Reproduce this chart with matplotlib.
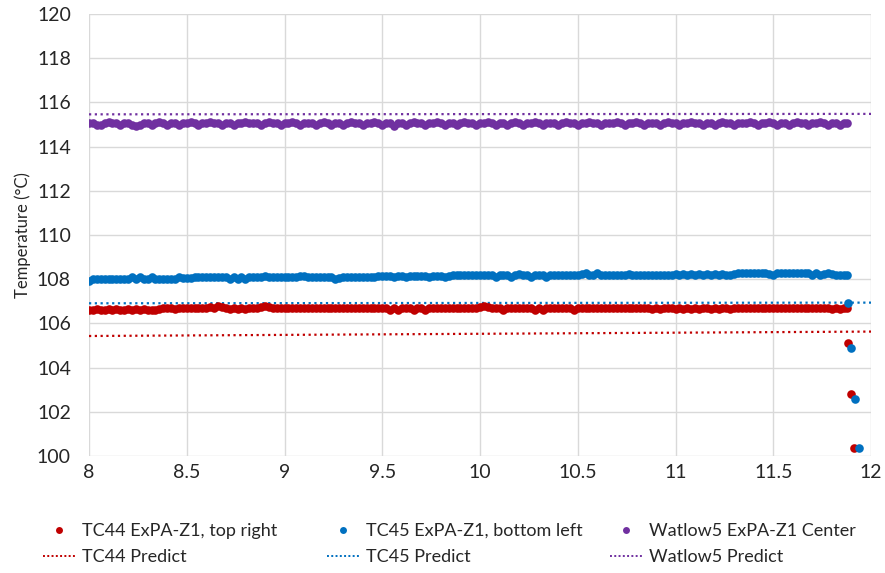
import numpy as np
import matplotlib
matplotlib.use("Agg")
import matplotlib.pyplot as plt
from matplotlib.ticker import FuncFormatter
from matplotlib.lines import Line2D

plt.rcParams['font.family'] = ['Lato', 'DejaVu Sans']

# time grid for the steady part (hours)
n_pts = 194
time = 8.0 + 0.02 * np.arange(n_pts)

tc45 = [
    107.92, 108.0, 108.0, 108.0, 108.0, 108.0, 108.0, 108.0, 108.0, 108.0,
    108.0, 108.1, 108.0, 108.1, 108.0, 108.0, 108.1, 108.0, 108.0, 108.0,
    108.0, 108.0, 108.0, 108.1, 108.05, 108.05, 108.05, 108.1, 108.1, 108.1,
    108.1, 108.1, 108.1, 108.1, 108.1, 108.1, 108.0, 108.1, 108.0, 108.1,
    108.0, 108.1, 108.1, 108.1, 108.1, 108.15, 108.1, 108.1, 108.1, 108.1,
    108.1, 108.1, 108.1, 108.1, 108.15, 108.15, 108.1, 108.1, 108.1, 108.1,
    108.1, 108.1, 108.1, 108.0, 108.05, 108.1, 108.1, 108.1, 108.1, 108.1,
    108.1, 108.1, 108.1, 108.1, 108.15, 108.15, 108.15, 108.15, 108.1, 108.15,
    108.15, 108.1, 108.15, 108.15, 108.15, 108.15, 108.15, 108.1, 108.15, 108.15,
    108.15, 108.1, 108.15, 108.2, 108.2, 108.2, 108.2, 108.2, 108.2, 108.2,
    108.2, 108.2, 108.2, 108.2, 108.1, 108.2, 108.2, 108.2, 108.1, 108.2,
    108.25, 108.2, 108.2, 108.1, 108.2, 108.2, 108.2, 108.1, 108.2, 108.2,
    108.2, 108.2, 108.2, 108.2, 108.2, 108.2, 108.25, 108.3, 108.2, 108.2,
    108.3, 108.2, 108.2, 108.2, 108.2, 108.2, 108.2, 108.2, 108.25, 108.2,
    108.2, 108.2, 108.2, 108.2, 108.2, 108.2, 108.2, 108.2, 108.2, 108.2,
    108.25, 108.2, 108.25, 108.2, 108.25, 108.2, 108.25, 108.2, 108.25, 108.2,
    108.25, 108.2, 108.25, 108.2, 108.2, 108.25, 108.3, 108.3, 108.3, 108.3,
    108.3, 108.3, 108.3, 108.3, 108.25, 108.2, 108.3, 108.3, 108.3, 108.3,
    108.3, 108.3, 108.3, 108.3, 108.3, 108.2, 108.3, 108.2, 108.25, 108.3,
    108.25, 108.2, 108.2, 108.2,
]

tc44 = [
    106.6, 106.6, 106.65, 106.6, 106.6, 106.65, 106.6, 106.65, 106.6, 106.6,
    106.65, 106.6, 106.65, 106.6, 106.65, 106.6, 106.6, 106.6, 106.65, 106.7,
    106.7, 106.7, 106.65, 106.7, 106.7, 106.7, 106.7, 106.7, 106.7, 106.7,
    106.7, 106.75, 106.7, 106.8, 106.75, 106.7, 106.65, 106.7, 106.65, 106.7,
    106.65, 106.7, 106.7, 106.7, 106.75, 106.8, 106.75, 106.7, 106.7, 106.7,
    106.7, 106.7, 106.7, 106.7, 106.7, 106.7, 106.7, 106.7, 106.7, 106.7,
    106.7, 106.7, 106.7, 106.7, 106.7, 106.7, 106.7, 106.7, 106.7, 106.7,
    106.7, 106.7, 106.7, 106.7, 106.7, 106.7, 106.7, 106.6, 106.7, 106.6,
    106.7, 106.7, 106.7, 106.6, 106.7, 106.7, 106.6, 106.7, 106.7, 106.7,
    106.7, 106.7, 106.7, 106.7, 106.7, 106.7, 106.7, 106.7, 106.7, 106.7,
    106.75, 106.8, 106.75, 106.7, 106.7, 106.7, 106.6, 106.7, 106.7, 106.7,
    106.7, 106.7, 106.7, 106.7, 106.6, 106.7, 106.6, 106.7, 106.7, 106.7,
    106.7, 106.7, 106.7, 106.7, 106.6, 106.7, 106.7, 106.7, 106.7, 106.7,
    106.7, 106.7, 106.7, 106.7, 106.7, 106.7, 106.7, 106.7, 106.7, 106.7,
    106.7, 106.7, 106.7, 106.7, 106.65, 106.7, 106.65, 106.7, 106.7, 106.7,
    106.65, 106.7, 106.65, 106.7, 106.65, 106.7, 106.65, 106.7, 106.7, 106.65,
    106.7, 106.65, 106.7, 106.7, 106.65, 106.7, 106.7, 106.7, 106.7, 106.7,
    106.7, 106.7, 106.7, 106.7, 106.7, 106.7, 106.7, 106.7, 106.7, 106.7,
    106.7, 106.7, 106.7, 106.7, 106.7, 106.7, 106.7, 106.7, 106.7, 106.7,
    106.65, 106.7, 106.65, 106.7,
]

watlow5 = [
    115.05, 115.05, 115.0, 115.0, 115.05, 115.1, 115.05, 115.05, 115.0, 115.05,
    115.05, 115.0, 114.95, 115.0, 115.05, 115.05, 115.0, 115.05, 115.1, 115.05,
    115.0, 115.05, 115.05, 115.0, 115.05, 115.05, 115.1, 115.05, 115.0, 115.05,
    115.05, 115.1, 115.05, 115.05, 115.0, 115.05, 115.05, 115.0, 115.05, 115.05,
    115.1, 115.05, 115.05, 115.05, 115.0, 115.05, 115.1, 115.05, 115.05, 115.0,
    115.05, 115.05, 115.1, 115.05, 115.0, 115.05, 115.05, 115.05, 115.0, 115.05,
    115.1, 115.05, 115.0, 115.05, 115.05, 115.0, 115.05, 115.1, 115.05, 115.05,
    115.0, 115.05, 115.05, 115.1, 115.05, 115.0, 115.05, 115.05, 114.95, 115.05,
    115.05, 115.0, 115.05, 115.1, 115.05, 115.05, 115.0, 115.05, 115.05, 115.1,
    115.05, 115.0, 115.05, 115.05, 115.0, 115.05, 115.1, 115.05, 115.05, 115.0,
    115.05, 115.05, 115.1, 115.05, 115.0, 115.05, 115.05, 115.0, 115.05, 115.1,
    115.05, 115.0, 115.05, 115.05, 115.1, 115.05, 115.0, 115.05, 115.05, 115.05,
    115.0, 115.05, 115.1, 115.05, 115.05, 115.0, 115.05, 115.05, 115.1, 115.05,
    115.05, 115.0, 115.05, 115.05, 115.05, 115.1, 115.05, 115.0, 115.05, 115.05,
    115.1, 115.05, 115.0, 115.05, 115.05, 115.05, 115.0, 115.05, 115.1, 115.05,
    115.05, 115.0, 115.05, 115.05, 115.1, 115.05, 115.05, 115.0, 115.05, 115.05,
    115.0, 115.05, 115.1, 115.05, 115.05, 115.0, 115.05, 115.05, 115.05, 115.1,
    115.05, 115.0, 115.05, 115.05, 115.1, 115.05, 115.0, 115.05, 115.05, 115.0,
    115.05, 115.1, 115.05, 115.05, 115.0, 115.05, 115.05, 115.1, 115.05, 115.0,
    115.05, 115.05, 115.0, 115.05,
]

# shutdown tails
tc44_tail_t = [11.875, 11.88, 11.897, 11.915]
tc44_tail_v = [106.7, 105.1, 102.8, 100.35]
tc45_tail_t = [11.875, 11.882, 11.90, 11.918, 11.94]
tc45_tail_v = [108.2, 106.92, 104.9, 102.6, 100.35]
watlow5_tail_t = [11.875]
watlow5_tail_v = [115.05]

# predictions
pred_t = [8.0, 12.0]
tc44_pred = [105.43, 105.63]
tc45_pred = [106.91, 106.94]
watlow5_pred = [115.46, 115.48]

labels = ["TC44 ExPA-Z1, top right", "TC45 ExPA-Z1, bottom left",
          "Watlow5 ExPA-Z1 Center", "TC44 Predict", "TC45 Predict",
          "Watlow5 Predict"]
c_red, c_blue, c_purple = "#C00000", "#0070C0", "#7030A0"

fig = plt.figure(figsize=(8.85, 5.73), dpi=100)
ax = fig.add_axes([89 / 885, 1 - 456 / 573, (871 - 89) / 885, (456 - 14) / 573])

dot = (0, (1, 1.6))
ax.plot(pred_t, tc44_pred, color=c_red, lw=1.6, ls=dot, zorder=2)
ax.plot(pred_t, tc45_pred, color=c_blue, lw=1.6, ls=dot, zorder=2)
ax.plot(pred_t, watlow5_pred, color=c_purple, lw=1.6, ls=dot, zorder=2)

ms = 6.2
ax.plot(np.concatenate([time, tc44_tail_t]), tc44 + tc44_tail_v, 'o',
        color=c_red, ms=ms, mew=0, zorder=3)
ax.plot(np.concatenate([time, tc45_tail_t]), tc45 + tc45_tail_v, 'o',
        color=c_blue, ms=ms, mew=0, zorder=3)
ax.plot(np.concatenate([time, watlow5_tail_t]), watlow5 + watlow5_tail_v, 'o',
        color=c_purple, ms=ms, mew=0, zorder=3)

ax.set_xlim(8, 12)
ax.set_ylim(100, 120)
ax.set_xticks(np.arange(8, 12.01, 0.5))
ax.set_yticks(np.arange(100, 120.1, 2))
ax.xaxis.set_major_formatter(FuncFormatter(lambda v, p: f"{v:g}"))
ax.grid(True, color="#d9d9d9", lw=1.0)
ax.set_axisbelow(True)
for s in ax.spines.values():
    s.set_visible(False)
ax.tick_params(length=0, labelsize=14, labelcolor="#262626")
ax.tick_params(axis='y', pad=13)
ax.tick_params(axis='x', pad=6)
ax.set_ylabel("Temperature (°C)", fontsize=12, color="#262626", labelpad=4)

# legends (3 columns)
cols = [(c_red, labels[0], labels[3], 43 / 885),
        (c_blue, labels[1], labels[4], 327 / 885),
        (c_purple, labels[2], labels[5], 610 / 885)]
for color, l1, l2, xpos in cols:
    h = [Line2D([], [], marker='o', ls='none', color=color, ms=5, mew=0),
         Line2D([], [], color=color, lw=1.4, ls=(0, (1, 1.2)))]
    fig.legend(h, [l1, l2], loc="upper left", bbox_to_anchor=(xpos, 1 - 523 / 573),
               frameon=False, fontsize=13, handlelength=1.8,
               handletextpad=0.35, labelspacing=0.55, borderpad=0,
               borderaxespad=0, labelcolor="#262626")

fig.savefig("out.png", dpi=100)
